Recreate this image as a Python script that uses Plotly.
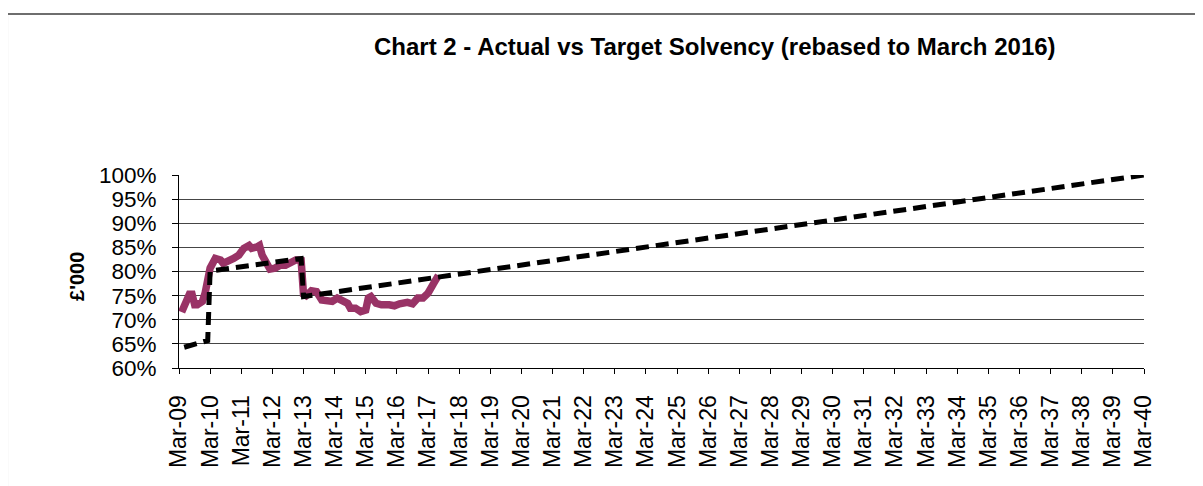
import plotly.graph_objects as go

# Actual solvency (monthly readings, % rebased to March 2016)
ACTUAL_DATES = [
    "2009-04", "2009-05", "2009-07", "2009-08", "2009-09", "2009-10", "2009-12",
    "2010-01", "2010-02", "2010-03", "2010-05", "2010-07", "2010-08", "2010-10",
    "2010-12", "2011-02", "2011-04", "2011-06", "2011-07", "2011-09", "2011-10",
    "2011-11", "2012-01", "2012-02", "2012-04", "2012-06", "2012-08", "2012-10",
    "2012-12", "2013-01", "2013-02", "2013-03", "2013-04", "2013-06", "2013-08",
    "2013-10", "2013-12", "2014-02", "2014-04", "2014-06", "2014-08", "2014-09",
    "2014-11", "2015-01", "2015-03", "2015-04", "2015-05", "2015-07", "2015-09",
    "2015-12", "2016-02", "2016-04", "2016-07", "2016-09", "2016-11", "2017-01",
    "2017-03", "2017-05", "2017-07",
]
ACTUAL_VALUES = [
    71.6, 73.1, 75.3, 75.3, 73.1, 73.1, 73.8,
    75.5, 77.6, 80.7, 82.7, 82.4, 81.7, 82.0,
    82.7, 83.4, 84.8, 85.4, 84.8, 85.1, 85.4,
    83.4, 81.3, 80.5, 80.7, 81.3, 81.3, 82.0,
    82.4, 82.4, 82.3, 75.3, 75.0, 76.0, 75.8,
    74.1, 73.8, 73.8, 74.5, 74.1, 73.4, 72.4,
    72.4, 71.7, 72.0, 74.5, 74.8, 73.4, 73.1,
    73.1, 72.9, 73.3, 73.6, 73.3, 74.5, 74.5,
    75.5, 77.4, 79.2,
]

# Target solvency path
TARGET_DATES = ["2009-05", "2010-02", "2010-03", "2013-02", "2013-03", "2040-03"]
TARGET_VALUES = [64.3, 65.7, 80.1, 82.7, 74.8, 100.0]

YEARS = list(range(2009, 2041))
TICK_DATES = [f"{y}-03-01" for y in YEARS]
TICK_LABELS = [f"Mar-{y % 100:02d}" for y in YEARS]

FONT = "Liberation Sans, Arial, sans-serif"

fig = go.Figure()
fig.add_trace(
    go.Scatter(
        x=ACTUAL_DATES,
        y=ACTUAL_VALUES,
        mode="lines",
        name="Actual",
        line=dict(color="#993366", width=7.5),
    )
)
fig.add_trace(
    go.Scatter(
        x=TARGET_DATES,
        y=TARGET_VALUES,
        mode="lines",
        name="Target",
        line=dict(color="black", width=5, dash="13px,7px"),
    )
)

fig.update_xaxes(
    type="date",
    range=["2009-03-01", "2040-03-01"],
    tickmode="array",
    tickvals=TICK_DATES,
    ticktext=TICK_LABELS,
    tickangle=-90,
    ticks="outside",
    ticklen=5,
    tickcolor="black",
    ticklabelstandoff=12,
    showline=True,
    linecolor="black",
    linewidth=1,
    showgrid=False,
    tickfont=dict(family=FONT, size=23, color="black"),
)
fig.update_yaxes(
    range=[60, 100],
    tick0=60,
    dtick=5,
    ticksuffix="%",
    ticks="outside",
    ticklen=6,
    tickcolor="black",
    ticklabelstandoff=11,
    showline=True,
    linecolor="black",
    linewidth=1,
    showgrid=True,
    gridcolor="#454545",
    gridwidth=1,
    zeroline=False,
    tickfont=dict(family=FONT, size=22.5, color="black"),
)

# page body adds an 8px offset, so margins are shifted to compensate
fig.update_layout(
    width=1203,
    height=486,
    margin=dict(l=171, r=67, t=167, b=126, pad=0),
    paper_bgcolor="white",
    plot_bgcolor="white",
    showlegend=False,
    font=dict(family=FONT, color="black"),
    annotations=[
        dict(
            text="<b>Chart 2 - Actual vs Target Solvency (rebased to March 2016)</b>",
            xref="paper", yref="paper", x=0.555, y=1.667,
            xanchor="center", yanchor="middle", showarrow=False,
            font=dict(family=FONT, size=24, color="black"),
        ),
        dict(
            text="<b>£'000</b>",
            xref="paper", yref="paper", x=-0.1057, y=0.477,
            xanchor="center", yanchor="middle", showarrow=False, textangle=-90,
            font=dict(family=FONT, size=20, color="black"),
        ),
    ],
    shapes=[
        dict(
            type="rect", xref="paper", yref="paper",
            x0=-0.1782, x1=1.3, y0=-1.0, y1=1.834,
            line=dict(color="#6e6e6e", width=2),
        )
    ],
)

fig.write_html("out.html")
